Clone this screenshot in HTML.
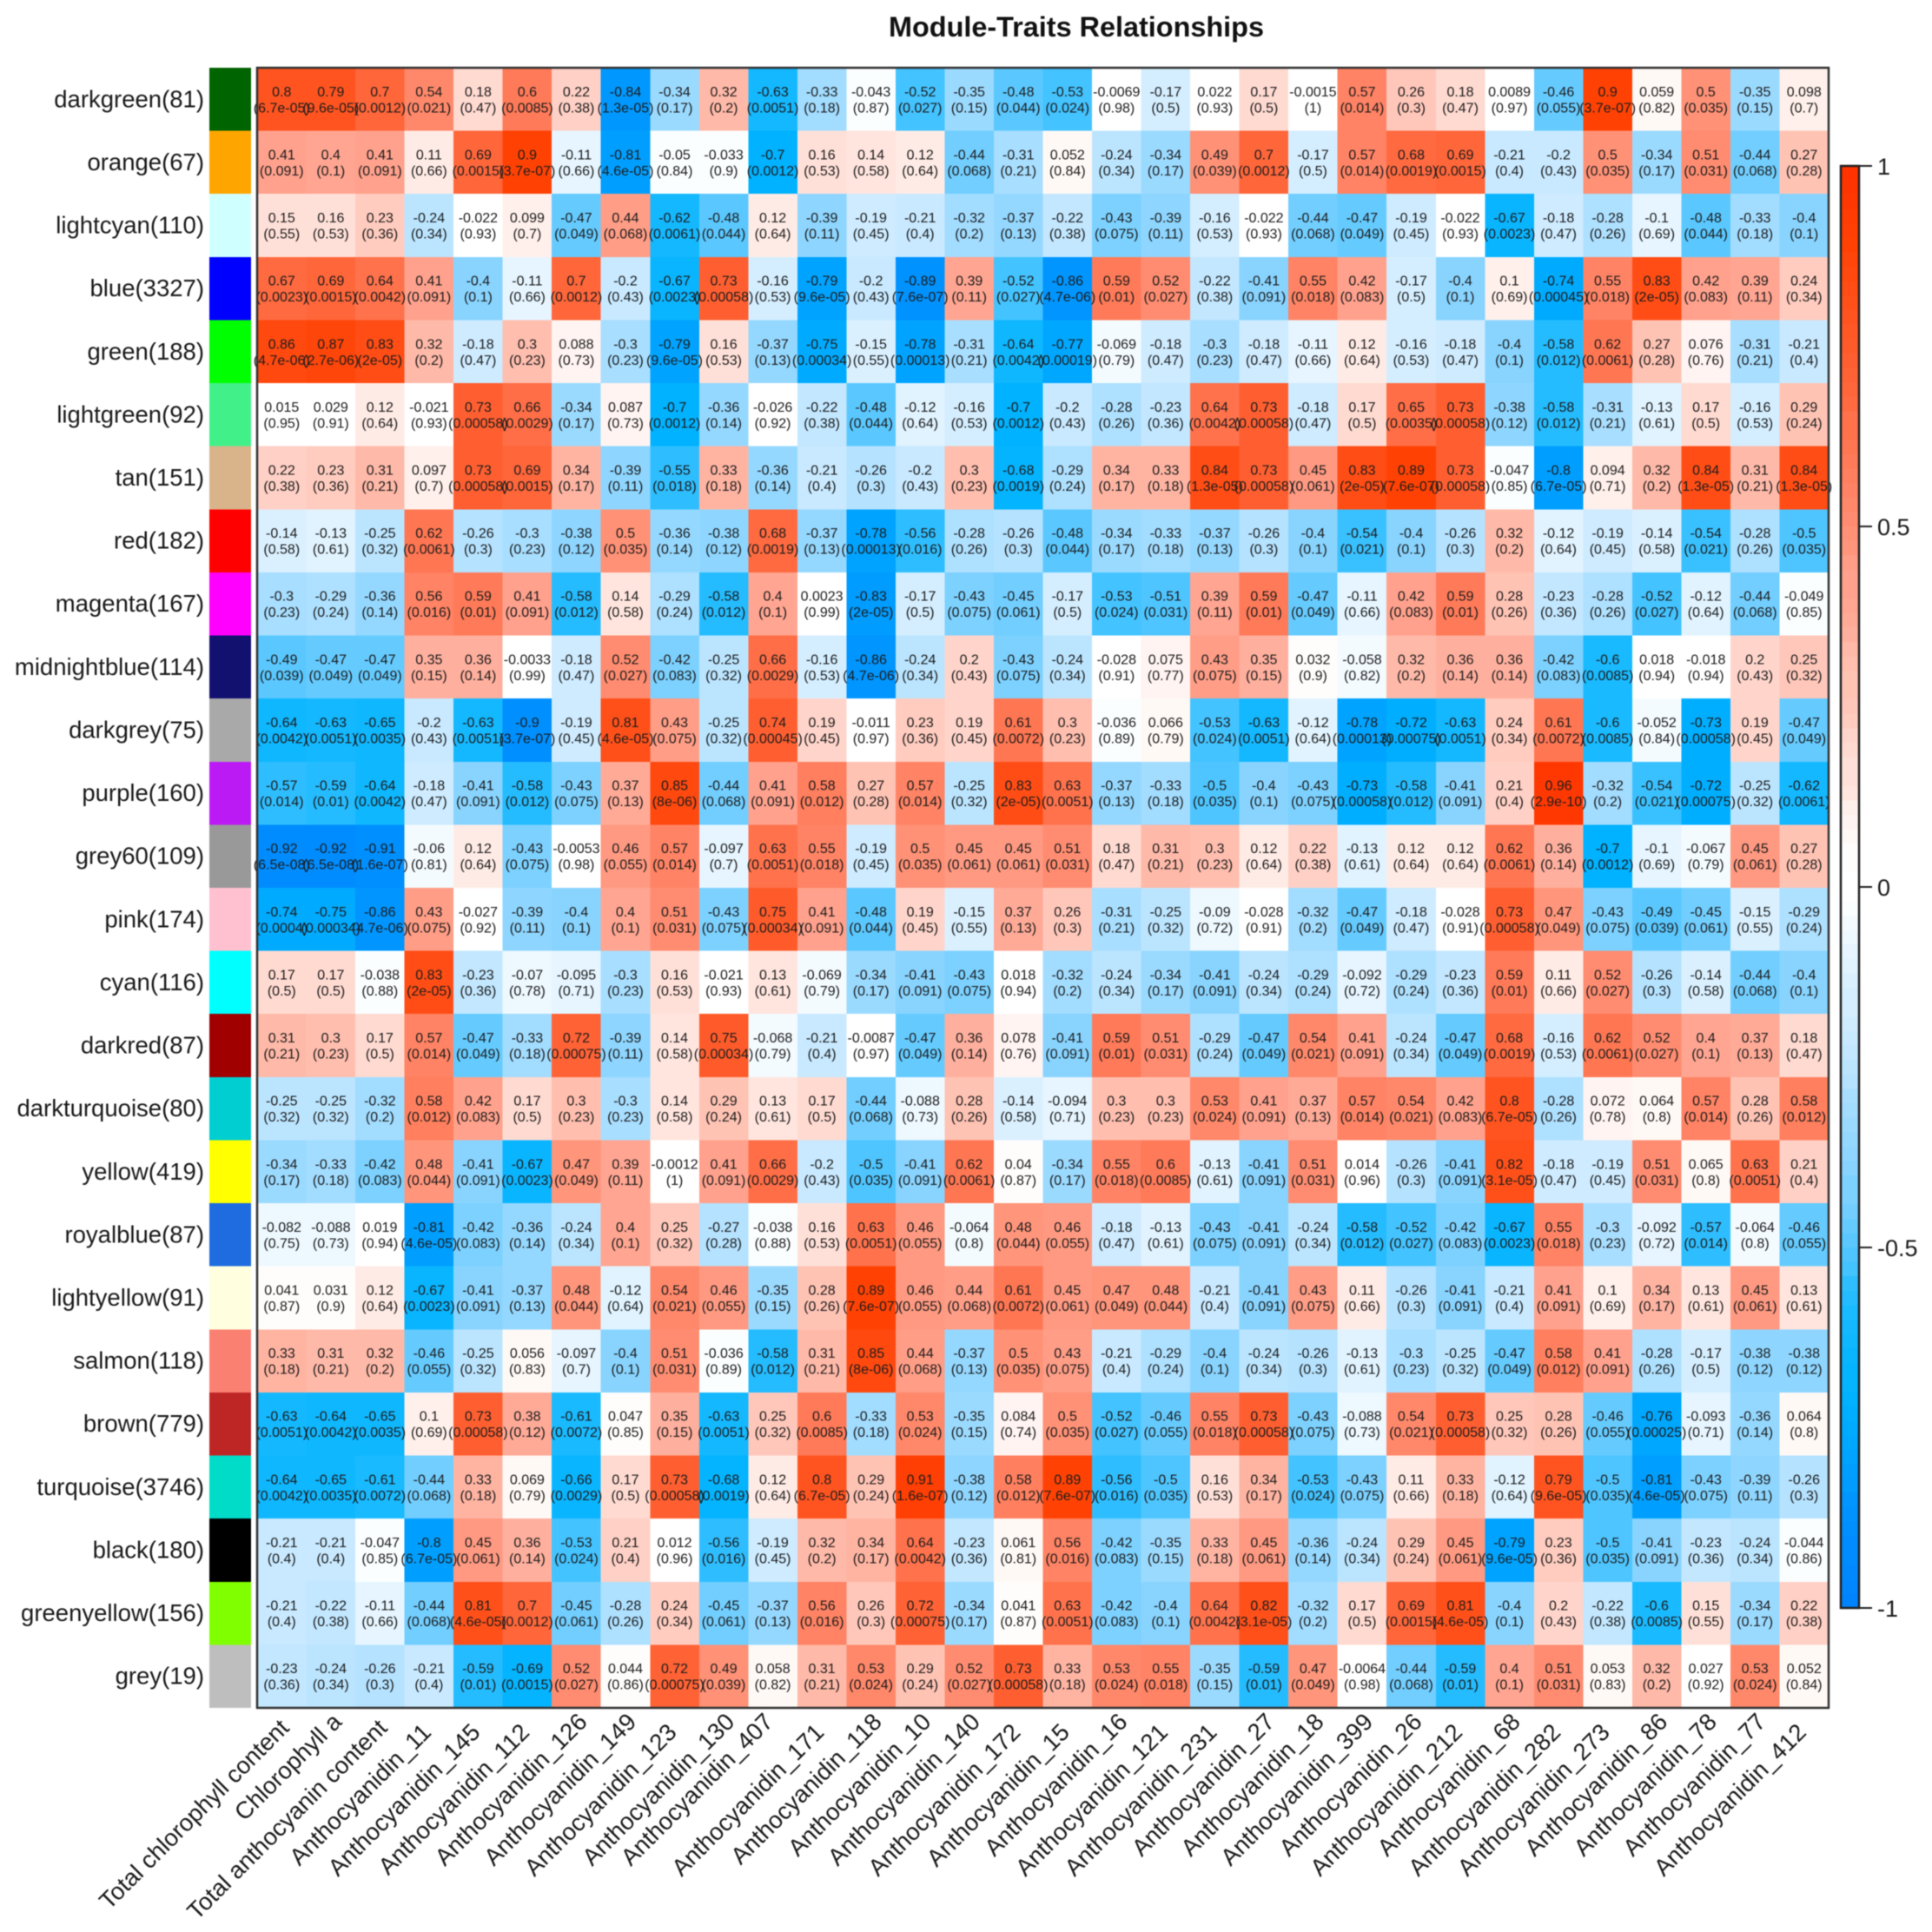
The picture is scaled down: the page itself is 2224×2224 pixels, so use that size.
<!DOCTYPE html>
<html lang="en">
<head>
<meta charset="utf-8">
<title>Module-Traits Relationships</title>
<style>
html,body{margin:0;padding:0;background:#fff;}
svg{display:block;font-family:"Liberation Sans",sans-serif;filter:blur(0.5px);}
</style>
</head>
<body>
<svg id="chart" xmlns="http://www.w3.org/2000/svg" width="2224" height="2224" viewBox="0 0 2224 2224">
<rect x="0" y="0" width="2224" height="2224" fill="#ffffff"/>
<text x="1239" y="42" font-size="32.4" font-weight="bold" text-anchor="middle" fill="#111">Module-Traits Relationships</text>
<g id="swatches"></g>
<g id="rowLabels"></g>
<g id="cells"></g>
<g id="cellText"></g>
<rect x="296" y="78" width="1809" height="1888" fill="none" stroke="#333" stroke-width="2.5"/>
<g id="colLabels"></g>
<g id="legend"></g>
</svg>
<script>
const modules = ["darkgreen(81)","orange(67)","lightcyan(110)","blue(3327)","green(188)","lightgreen(92)","tan(151)","red(182)","magenta(167)","midnightblue(114)","darkgrey(75)","purple(160)","grey60(109)","pink(174)","cyan(116)","darkred(87)","darkturquoise(80)","yellow(419)","royalblue(87)","lightyellow(91)","salmon(118)","brown(779)","turquoise(3746)","black(180)","greenyellow(156)","grey(19)"];
const moduleColors = ["#006400","#ffa500","#d0ffff","#0000ff","#00ff00","#42f08a","#d9b48a","#ff0000","#ff00ff","#131170","#a9a9a9","#bc1af5","#999999","#ffc0d0","#00ffff","#a00000","#00ced1","#ffff00","#1f6ce0","#ffffe0","#fa8072","#be2626","#00dcc8","#000000","#80ff00","#bebebe"];
const traits = ["Total chlorophyll content","Chlorophyll a","Total anthocyanin content","Anthocyanidin_11","Anthocyanidin_145","Anthocyanidin_112","Anthocyanidin_126","Anthocyanidin_149","Anthocyanidin_123","Anthocyanidin_130","Anthocyanidin_407","Anthocyanidin_171","Anthocyanidin_118","Anthocyanidin_10","Anthocyanidin_140","Anthocyanidin_172","Anthocyanidin_15","Anthocyanidin_16","Anthocyanidin_121","Anthocyanidin_231","Anthocyanidin_27","Anthocyanidin_18","Anthocyanidin_399","Anthocyanidin_26","Anthocyanidin_212","Anthocyanidin_68","Anthocyanidin_282","Anthocyanidin_273","Anthocyanidin_86","Anthocyanidin_78","Anthocyanidin_77","Anthocyanidin_412"];
const legendTicks = [1,0.5,0,-0.5,-1];
const correlations = [
[.8,.79,.7,.54,.18,.6,.22,-.84,-.34,.32,-.63,-.33,-.043,-.52,-.35,-.48,-.53,-.0069,-.17,.022,.17,-.0015,.57,.26,.18,.0089,-.46,.9,.059,.5,-.35,.098],
[.41,.4,.41,.11,.69,.9,-.11,-.81,-.05,-.033,-.7,.16,.14,.12,-.44,-.31,.052,-.24,-.34,.49,.7,-.17,.57,.68,.69,-.21,-.2,.5,-.34,.51,-.44,.27],
[.15,.16,.23,-.24,-.022,.099,-.47,.44,-.62,-.48,.12,-.39,-.19,-.21,-.32,-.37,-.22,-.43,-.39,-.16,-.022,-.44,-.47,-.19,-.022,-.67,-.18,-.28,-.1,-.48,-.33,-.4],
[.67,.69,.64,.41,-.4,-.11,.7,-.2,-.67,.73,-.16,-.79,-.2,-.89,.39,-.52,-.86,.59,.52,-.22,-.41,.55,.42,-.17,-.4,.1,-.74,.55,.83,.42,.39,.24],
[.86,.87,.83,.32,-.18,.3,.088,-.3,-.79,.16,-.37,-.75,-.15,-.78,-.31,-.64,-.77,-.069,-.18,-.3,-.18,-.11,.12,-.16,-.18,-.4,-.58,.62,.27,.076,-.31,-.21],
[.015,.029,.12,-.021,.73,.66,-.34,.087,-.7,-.36,-.026,-.22,-.48,-.12,-.16,-.7,-.2,-.28,-.23,.64,.73,-.18,.17,.65,.73,-.38,-.58,-.31,-.13,.17,-.16,.29],
[.22,.23,.31,.097,.73,.69,.34,-.39,-.55,.33,-.36,-.21,-.26,-.2,.3,-.68,-.29,.34,.33,.84,.73,.45,.83,.89,.73,-.047,-.8,.094,.32,.84,.31,.84],
[-.14,-.13,-.25,.62,-.26,-.3,-.38,.5,-.36,-.38,.68,-.37,-.78,-.56,-.28,-.26,-.48,-.34,-.33,-.37,-.26,-.4,-.54,-.4,-.26,.32,-.12,-.19,-.14,-.54,-.28,-.5],
[-.3,-.29,-.36,.56,.59,.41,-.58,.14,-.29,-.58,.4,.0023,-.83,-.17,-.43,-.45,-.17,-.53,-.51,.39,.59,-.47,-.11,.42,.59,.28,-.23,-.28,-.52,-.12,-.44,-.049],
[-.49,-.47,-.47,.35,.36,-.0033,-.18,.52,-.42,-.25,.66,-.16,-.86,-.24,.2,-.43,-.24,-.028,.075,.43,.35,.032,-.058,.32,.36,.36,-.42,-.6,.018,-.018,.2,.25],
[-.64,-.63,-.65,-.2,-.63,-.9,-.19,.81,.43,-.25,.74,.19,-.011,.23,.19,.61,.3,-.036,.066,-.53,-.63,-.12,-.78,-.72,-.63,.24,.61,-.6,-.052,-.73,.19,-.47],
[-.57,-.59,-.64,-.18,-.41,-.58,-.43,.37,.85,-.44,.41,.58,.27,.57,-.25,.83,.63,-.37,-.33,-.5,-.4,-.43,-.73,-.58,-.41,.21,.96,-.32,-.54,-.72,-.25,-.62],
[-.92,-.92,-.91,-.06,.12,-.43,-.0053,.46,.57,-.097,.63,.55,-.19,.5,.45,.45,.51,.18,.31,.3,.12,.22,-.13,.12,.12,.62,.36,-.7,-.1,-.067,.45,.27],
[-.74,-.75,-.86,.43,-.027,-.39,-.4,.4,.51,-.43,.75,.41,-.48,.19,-.15,.37,.26,-.31,-.25,-.09,-.028,-.32,-.47,-.18,-.028,.73,.47,-.43,-.49,-.45,-.15,-.29],
[.17,.17,-.038,.83,-.23,-.07,-.095,-.3,.16,-.021,.13,-.069,-.34,-.41,-.43,.018,-.32,-.24,-.34,-.41,-.24,-.29,-.092,-.29,-.23,.59,.11,.52,-.26,-.14,-.44,-.4],
[.31,.3,.17,.57,-.47,-.33,.72,-.39,.14,.75,-.068,-.21,-.0087,-.47,.36,.078,-.41,.59,.51,-.29,-.47,.54,.41,-.24,-.47,.68,-.16,.62,.52,.4,.37,.18],
[-.25,-.25,-.32,.58,.42,.17,.3,-.3,.14,.29,.13,.17,-.44,-.088,.28,-.14,-.094,.3,.3,.53,.41,.37,.57,.54,.42,.8,-.28,.072,.064,.57,.28,.58],
[-.34,-.33,-.42,.48,-.41,-.67,.47,.39,-.0012,.41,.66,-.2,-.5,-.41,.62,.04,-.34,.55,.6,-.13,-.41,.51,.014,-.26,-.41,.82,-.18,-.19,.51,.065,.63,.21],
[-.082,-.088,.019,-.81,-.42,-.36,-.24,.4,.25,-.27,-.038,.16,.63,.46,-.064,.48,.46,-.18,-.13,-.43,-.41,-.24,-.58,-.52,-.42,-.67,.55,-.3,-.092,-.57,-.064,-.46],
[.041,.031,.12,-.67,-.41,-.37,.48,-.12,.54,.46,-.35,.28,.89,.46,.44,.61,.45,.47,.48,-.21,-.41,.43,.11,-.26,-.41,-.21,.41,.1,.34,.13,.45,.13],
[.33,.31,.32,-.46,-.25,.056,-.097,-.4,.51,-.036,-.58,.31,.85,.44,-.37,.5,.43,-.21,-.29,-.4,-.24,-.26,-.13,-.3,-.25,-.47,.58,.41,-.28,-.17,-.38,-.38],
[-.63,-.64,-.65,.1,.73,.38,-.61,.047,.35,-.63,.25,.6,-.33,.53,-.35,.084,.5,-.52,-.46,.55,.73,-.43,-.088,.54,.73,.25,.28,-.46,-.76,-.093,-.36,.064],
[-.64,-.65,-.61,-.44,.33,.069,-.66,.17,.73,-.68,.12,.8,.29,.91,-.38,.58,.89,-.56,-.5,.16,.34,-.53,-.43,.11,.33,-.12,.79,-.5,-.81,-.43,-.39,-.26],
[-.21,-.21,-.047,-.8,.45,.36,-.53,.21,.012,-.56,-.19,.32,.34,.64,-.23,.061,.56,-.42,-.35,.33,.45,-.36,-.24,.29,.45,-.79,.23,-.5,-.41,-.23,-.24,-.044],
[-.21,-.22,-.11,-.44,.81,.7,-.45,-.28,.24,-.45,-.37,.56,.26,.72,-.34,.041,.63,-.42,-.4,.64,.82,-.32,.17,.69,.81,-.4,.2,-.22,-.6,.15,-.34,.22],
[-.23,-.24,-.26,-.21,-.59,-.69,.52,.044,.72,.49,.058,.31,.53,.29,.52,.73,.33,.53,.55,-.35,-.59,.47,-.0064,-.44,-.59,.4,.51,.053,.32,.027,.53,.052]
];
const pValues = [
["6.7e-05","9.6e-05","0.0012","0.021","0.47","0.0085","0.38","1.3e-05","0.17","0.2","0.0051","0.18","0.87","0.027","0.15","0.044","0.024","0.98","0.5","0.93","0.5","1","0.014","0.3","0.47","0.97","0.055","3.7e-07","0.82","0.035","0.15","0.7"],
["0.091","0.1","0.091","0.66","0.0015","3.7e-07","0.66","4.6e-05","0.84","0.9","0.0012","0.53","0.58","0.64","0.068","0.21","0.84","0.34","0.17","0.039","0.0012","0.5","0.014","0.0019","0.0015","0.4","0.43","0.035","0.17","0.031","0.068","0.28"],
["0.55","0.53","0.36","0.34","0.93","0.7","0.049","0.068","0.0061","0.044","0.64","0.11","0.45","0.4","0.2","0.13","0.38","0.075","0.11","0.53","0.93","0.068","0.049","0.45","0.93","0.0023","0.47","0.26","0.69","0.044","0.18","0.1"],
["0.0023","0.0015","0.0042","0.091","0.1","0.66","0.0012","0.43","0.0023","0.00058","0.53","9.6e-05","0.43","7.6e-07","0.11","0.027","4.7e-06","0.01","0.027","0.38","0.091","0.018","0.083","0.5","0.1","0.69","0.00045","0.018","2e-05","0.083","0.11","0.34"],
["4.7e-06","2.7e-06","2e-05","0.2","0.47","0.23","0.73","0.23","9.6e-05","0.53","0.13","0.00034","0.55","0.00013","0.21","0.0042","0.00019","0.79","0.47","0.23","0.47","0.66","0.64","0.53","0.47","0.1","0.012","0.0061","0.28","0.76","0.21","0.4"],
["0.95","0.91","0.64","0.93","0.00058","0.0029","0.17","0.73","0.0012","0.14","0.92","0.38","0.044","0.64","0.53","0.0012","0.43","0.26","0.36","0.0042","0.00058","0.47","0.5","0.0035","0.00058","0.12","0.012","0.21","0.61","0.5","0.53","0.24"],
["0.38","0.36","0.21","0.7","0.00058","0.0015","0.17","0.11","0.018","0.18","0.14","0.4","0.3","0.43","0.23","0.0019","0.24","0.17","0.18","1.3e-05","0.00058","0.061","2e-05","7.6e-07","0.00058","0.85","6.7e-05","0.71","0.2","1.3e-05","0.21","1.3e-05"],
["0.58","0.61","0.32","0.0061","0.3","0.23","0.12","0.035","0.14","0.12","0.0019","0.13","0.00013","0.016","0.26","0.3","0.044","0.17","0.18","0.13","0.3","0.1","0.021","0.1","0.3","0.2","0.64","0.45","0.58","0.021","0.26","0.035"],
["0.23","0.24","0.14","0.016","0.01","0.091","0.012","0.58","0.24","0.012","0.1","0.99","2e-05","0.5","0.075","0.061","0.5","0.024","0.031","0.11","0.01","0.049","0.66","0.083","0.01","0.26","0.36","0.26","0.027","0.64","0.068","0.85"],
["0.039","0.049","0.049","0.15","0.14","0.99","0.47","0.027","0.083","0.32","0.0029","0.53","4.7e-06","0.34","0.43","0.075","0.34","0.91","0.77","0.075","0.15","0.9","0.82","0.2","0.14","0.14","0.083","0.0085","0.94","0.94","0.43","0.32"],
["0.0042","0.0051","0.0035","0.43","0.0051","3.7e-07","0.45","4.6e-05","0.075","0.32","0.00045","0.45","0.97","0.36","0.45","0.0072","0.23","0.89","0.79","0.024","0.0051","0.64","0.00013","0.00075","0.0051","0.34","0.0072","0.0085","0.84","0.00058","0.45","0.049"],
["0.014","0.01","0.0042","0.47","0.091","0.012","0.075","0.13","8e-06","0.068","0.091","0.012","0.28","0.014","0.32","2e-05","0.0051","0.13","0.18","0.035","0.1","0.075","0.00058","0.012","0.091","0.4","2.9e-10","0.2","0.021","0.00075","0.32","0.0061"],
["6.5e-08","6.5e-08","1.6e-07","0.81","0.64","0.075","0.98","0.055","0.014","0.7","0.0051","0.018","0.45","0.035","0.061","0.061","0.031","0.47","0.21","0.23","0.64","0.38","0.61","0.64","0.64","0.0061","0.14","0.0012","0.69","0.79","0.061","0.28"],
["0.0004","0.00034","4.7e-06","0.075","0.92","0.11","0.1","0.1","0.031","0.075","0.00034","0.091","0.044","0.45","0.55","0.13","0.3","0.21","0.32","0.72","0.91","0.2","0.049","0.47","0.91","0.00058","0.049","0.075","0.039","0.061","0.55","0.24"],
["0.5","0.5","0.88","2e-05","0.36","0.78","0.71","0.23","0.53","0.93","0.61","0.79","0.17","0.091","0.075","0.94","0.2","0.34","0.17","0.091","0.34","0.24","0.72","0.24","0.36","0.01","0.66","0.027","0.3","0.58","0.068","0.1"],
["0.21","0.23","0.5","0.014","0.049","0.18","0.00075","0.11","0.58","0.00034","0.79","0.4","0.97","0.049","0.14","0.76","0.091","0.01","0.031","0.24","0.049","0.021","0.091","0.34","0.049","0.0019","0.53","0.0061","0.027","0.1","0.13","0.47"],
["0.32","0.32","0.2","0.012","0.083","0.5","0.23","0.23","0.58","0.24","0.61","0.5","0.068","0.73","0.26","0.58","0.71","0.23","0.23","0.024","0.091","0.13","0.014","0.021","0.083","6.7e-05","0.26","0.78","0.8","0.014","0.26","0.012"],
["0.17","0.18","0.083","0.044","0.091","0.0023","0.049","0.11","1","0.091","0.0029","0.43","0.035","0.091","0.0061","0.87","0.17","0.018","0.0085","0.61","0.091","0.031","0.96","0.3","0.091","3.1e-05","0.47","0.45","0.031","0.8","0.0051","0.4"],
["0.75","0.73","0.94","4.6e-05","0.083","0.14","0.34","0.1","0.32","0.28","0.88","0.53","0.0051","0.055","0.8","0.044","0.055","0.47","0.61","0.075","0.091","0.34","0.012","0.027","0.083","0.0023","0.018","0.23","0.72","0.014","0.8","0.055"],
["0.87","0.9","0.64","0.0023","0.091","0.13","0.044","0.64","0.021","0.055","0.15","0.26","7.6e-07","0.055","0.068","0.0072","0.061","0.049","0.044","0.4","0.091","0.075","0.66","0.3","0.091","0.4","0.091","0.69","0.17","0.61","0.061","0.61"],
["0.18","0.21","0.2","0.055","0.32","0.83","0.7","0.1","0.031","0.89","0.012","0.21","8e-06","0.068","0.13","0.035","0.075","0.4","0.24","0.1","0.34","0.3","0.61","0.23","0.32","0.049","0.012","0.091","0.26","0.5","0.12","0.12"],
["0.0051","0.0042","0.0035","0.69","0.00058","0.12","0.0072","0.85","0.15","0.0051","0.32","0.0085","0.18","0.024","0.15","0.74","0.035","0.027","0.055","0.018","0.00058","0.075","0.73","0.021","0.00058","0.32","0.26","0.055","0.00025","0.71","0.14","0.8"],
["0.0042","0.0035","0.0072","0.068","0.18","0.79","0.0029","0.5","0.00058","0.0019","0.64","6.7e-05","0.24","1.6e-07","0.12","0.012","7.6e-07","0.016","0.035","0.53","0.17","0.024","0.075","0.66","0.18","0.64","9.6e-05","0.035","4.6e-05","0.075","0.11","0.3"],
["0.4","0.4","0.85","6.7e-05","0.061","0.14","0.024","0.4","0.96","0.016","0.45","0.2","0.17","0.0042","0.36","0.81","0.016","0.083","0.15","0.18","0.061","0.14","0.34","0.24","0.061","9.6e-05","0.36","0.035","0.091","0.36","0.34","0.86"],
["0.4","0.38","0.66","0.068","4.6e-05","0.0012","0.061","0.26","0.34","0.061","0.13","0.016","0.3","0.00075","0.17","0.87","0.0051","0.083","0.1","0.0042","3.1e-05","0.2","0.5","0.0015","4.6e-05","0.1","0.43","0.38","0.0085","0.55","0.17","0.38"],
["0.36","0.34","0.3","0.4","0.01","0.0015","0.027","0.86","0.00075","0.039","0.82","0.21","0.024","0.24","0.027","0.00058","0.18","0.024","0.018","0.15","0.01","0.049","0.98","0.068","0.01","0.1","0.031","0.83","0.2","0.92","0.024","0.84"]
];

const NS = "http://www.w3.org/2000/svg";
const plotLeft = 296, plotRight = 2105, plotTop = 78, plotBottom = 1966;
const barLeft = 2119, barRight = 2140, barTop = 191, barBottom = 1851;
function xScale(c){ return plotLeft + (plotRight - plotLeft) * c / traits.length; }
function yScale(r){ return plotTop + (plotBottom - plotTop) * r / modules.length; }
function legendY(v){ return barTop + (1 - v) / 2 * (barBottom - barTop); }

function colorStops(){
  return [[-1,0,128,255],[-.85,0,150,255],[-.7,0,178,255],[-.6,25,186,255],[-.5,78,197,255],[-.4,136,212,255],[-.3,168,222,255],[-.2,200,233,255],[-.1,230,245,255],[-.03,255,255,255],[.03,255,255,255],[.1,255,240,235],[.2,255,213,203],[.3,255,190,174],[.4,255,165,145],[.5,255,145,118],[.6,255,122,88],[.7,255,102,58],[.8,255,84,32],[.9,255,66,4],[1,255,50,0]];
}
function colorOf(v){
  const q = Math.max(-1, Math.min(1, Math.round(v * 50) / 50));
  const s = colorStops();
  for (let i = 0; i < s.length - 1; i++) {
    if (q >= s[i][0] && q <= s[i + 1][0]) {
      const t = (q - s[i][0]) / (s[i + 1][0] - s[i][0]);
      const ch = k => Math.round(s[i][k] + (s[i + 1][k] - s[i][k]) * t);
      return "rgb(" + ch(1) + "," + ch(2) + "," + ch(3) + ")";
    }
  }
  return "#fff";
}
function make(tag, attrs, parent, txt){
  const el = document.createElementNS(NS, tag);
  for (const k in attrs) el.setAttribute(k, attrs[k]);
  if (txt !== undefined) el.textContent = txt;
  parent.appendChild(el);
  return el;
}
// Label anchoring style: the source figure staggers its rotated labels along their own direction.
function labelAnchor(c){
  const staggerHigh = [1,6,7,9,12,13,14,17,20,21,22,23,25,28,29,30];
  const staggerMid = [0,2];
  if (c === 10) return {dx: 2, y: 1970};
  if (staggerMid.indexOf(c) >= 0) return {dx: 10, y: 1977};
  if (staggerHigh.indexOf(c) >= 0) return {dx: 14, y: 1970};
  return {dx: 4, y: 1982};
}

const gSw = document.getElementById("swatches");
const gRow = document.getElementById("rowLabels");
const gCell = document.getElementById("cells");
const gTxt = document.getElementById("cellText");
const gCol = document.getElementById("colLabels");
const gLeg = document.getElementById("legend");

modules.forEach(function(name, r){
  const y0 = yScale(r), y1 = yScale(r + 1), yc = (y0 + y1) / 2;
  const sw = make("rect", {x: 241, y: y0, width: 48, height: y1 - y0, fill: moduleColors[r], "shape-rendering": "crispEdges"}, gSw);
  
  
  const lb = make("text", {x: 235, y: yc + 9, "font-size": 27.5, "text-anchor": "end", fill: "#1a1a1a"}, gRow, name);
  
  
  correlations[r].forEach(function(v, c){
    const x0 = xScale(c), x1 = xScale(c + 1), xc = (x0 + x1) / 2;
    const rect = make("rect", {x: x0, y: y0, width: x1 - x0 + .5, height: y1 - y0 + .5, fill: colorOf(v), "shape-rendering": "crispEdges"}, gCell);
    
    
    const t1 = make("text", {x: xc, y: yc - 3.5, "font-size": 16, "text-anchor": "middle", fill: "#1c1c1c"}, gTxt, String(v));
    
    
    const t2 = make("text", {x: xc, y: yc + 15, "font-size": 16, "text-anchor": "middle", fill: "#1c1c1c"}, gTxt, "(" + pValues[r][c] + ")");
    
    
  });
});

traits.forEach(function(name, c){
  const a = labelAnchor(c);
  const xe = (xScale(c) + xScale(c + 1)) / 2 + a.dx;
  const yb = a.y + 13.7;
  const lb = make("text", {x: xe, y: yb, "font-size": 27.5, "text-anchor": "end", fill: "#1a1a1a", transform: "rotate(-45 " + xe + " " + yb + ")"}, gCol, name);
  
  
});

for (let i = 0; i < 100; i++) {
  const hi = 1 - i * 0.02, lo = hi - 0.02;
  const band = make("rect", {x: barLeft, y: legendY(hi), width: barRight - barLeft, height: legendY(lo) - legendY(hi) + .5, fill: colorOf((hi + lo) / 2), "shape-rendering": "crispEdges"}, gLeg);
  
  
}
const frame = make("rect", {x: barLeft, y: barTop, width: barRight - barLeft, height: barBottom - barTop, fill: "none", stroke: "#222", "stroke-width": 2.5}, gLeg);


legendTicks.forEach(function(v){
  const y = legendY(v);
  const tick = make("line", {x1: barRight, x2: 2155, y1: y, y2: y, stroke: "#222", "stroke-width": 2}, gLeg);
  
  
  const lb = make("text", {x: 2161, y: y + 10, "font-size": 27, fill: "#1a1a1a"}, gLeg, String(v));
  
  
});
</script>
</body>
</html>
